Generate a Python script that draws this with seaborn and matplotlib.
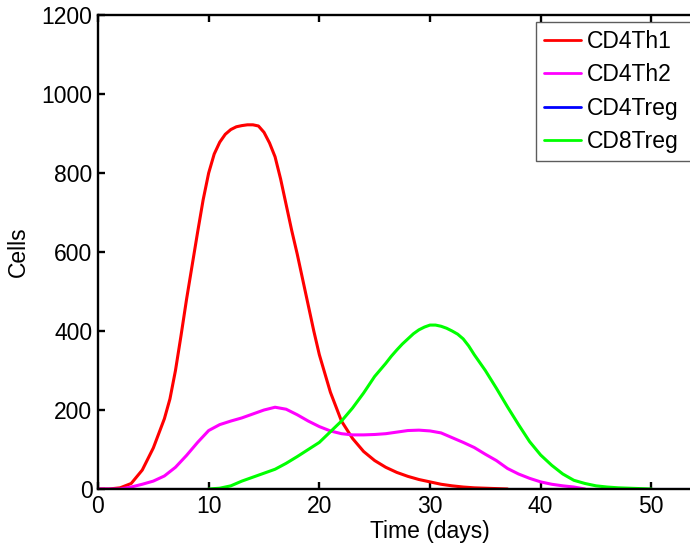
import numpy as np
import pandas as pd
import matplotlib
matplotlib.use("Agg")
import matplotlib.pyplot as plt
import seaborn as sns

# ---- data ----
th1_days = [0, 1, 2, 3, 4, 5, 6, 6.5, 7, 7.5, 8, 8.5, 9, 9.5, 10, 10.5, 11, 11.5, 12, 12.5,
            13, 13.5, 14, 14.5, 15, 15.5, 16, 16.5, 17, 17.5, 18, 18.5, 19, 19.5, 20, 21,
            22, 23, 24, 25, 26, 27, 28, 29, 30, 31, 32, 33, 34, 35, 36, 37]
th1_vals = [0, 0, 3, 14, 48, 104, 178, 228, 300, 388, 480, 565, 650, 732, 800, 848, 878,
            898, 910, 917, 920, 922, 922, 919, 903, 876, 841, 785, 720, 655, 595, 530, 465,
            400, 340, 245, 172, 128, 95, 72, 55, 42, 32, 24, 18, 12, 8, 5, 3, 2, 1, 0]

th2_days = list(range(0, 45))
th2_vals = [0, 0, 0, 5, 12, 20, 33, 55, 85, 118, 148, 163, 172, 180, 190, 200, 207, 202,
            188, 172, 158, 147, 140, 137, 137, 138, 140, 144, 148, 149, 147, 142, 130, 118,
            105, 88, 72, 52, 38, 27, 18, 12, 8, 5, 0]

treg4_days = list(range(0, 56))
treg4_vals = [0] * 56

treg8_days = [10, 11, 12, 13, 14, 15, 16, 17, 18, 19, 20, 21, 22, 23, 24, 25, 26, 26.5, 27,
              27.5, 28, 28.5, 29, 29.5, 30, 30.5, 31, 31.5, 32, 32.5, 33, 33.5, 34, 35, 36,
              37, 38, 39, 40, 41, 42, 43, 44, 45, 46, 47, 48, 49, 50]
treg8_vals = [0, 2, 8, 20, 30, 40, 50, 65, 82, 100, 118, 145, 172, 205, 243, 285, 318, 336,
              352, 367, 380, 393, 403, 410, 415, 415, 412, 407, 400, 392, 380, 362, 340, 300,
              255, 208, 163, 120, 86, 60, 38, 22, 14, 8, 5, 3, 2, 1, 0]

series_names = ["CD4Th1", "CD4Th2", "CD4Treg", "CD8Treg"]
series_colors = ["#ff0000", "#ff00ff", "#0000ff", "#00ff00"]
x_ticks = [0, 10, 20, 30, 40, 50]
y_ticks = [0, 200, 400, 600, 800, 1000, 1200]

frames = []
for name, d, v in zip(series_names,
                      [th1_days, th2_days, treg4_days, treg8_days],
                      [th1_vals, th2_vals, treg4_vals, treg8_vals]):
    frames.append(pd.DataFrame({"Time (days)": d, "Cells": v, "Series": name}))
df = pd.concat(frames, ignore_index=True)

# ---- style ----
sns.set_style("ticks")
plt.rcParams["font.family"] = ["Liberation Sans", "DejaVu Sans"]
plt.rcParams["text.color"] = "black"
plt.rcParams["axes.labelcolor"] = "black"
plt.rcParams["xtick.color"] = "black"
plt.rcParams["ytick.color"] = "black"
FS = 16.5

fig = plt.figure(figsize=(6.9, 5.52), dpi=100)
ax = fig.add_axes([98 / 690, 1 - 489 / 552, 664 / 690, 474 / 552])

sns.lineplot(data=df, x="Time (days)", y="Cells", hue="Series",
             hue_order=series_names, palette=dict(zip(series_names, series_colors)),
             linewidth=2.2, ax=ax, estimator=None)

ax.set_xlim(0, 60)
ax.set_ylim(0, 1200)
ax.set_xticks(x_ticks)
ax.set_yticks(y_ticks)
ax.set_xlabel("Time (days)", fontsize=FS, labelpad=2, color="black")
ax.set_ylabel("Cells", fontsize=FS, labelpad=8, color="black")

for s in ax.spines.values():
    s.set_visible(True)
    s.set_linewidth(1.7)
    s.set_color("black")
ax.tick_params(direction="in", length=5, width=1.7, labelsize=FS,
               top=True, right=True, pad=4, colors="black")

top = 1 - 22 / 552
sns.move_legend(ax, loc="upper left",
                bbox_to_anchor=(536 / 690, 0.5, 230 / 690, top - 0.5),
                bbox_transform=fig.transFigure, mode="expand", title=None, fontsize=FS,
                frameon=True, fancybox=False, handlelength=1.6, handletextpad=0.28,
                labelspacing=0.45, borderpad=0.35, borderaxespad=0)
leg = ax.get_legend()
leg.get_frame().set_edgecolor("#333333")
leg.get_frame().set_linewidth(1.0)
for t in leg.get_texts():
    t.set_color("black")
for h in leg.legend_handles:
    h.set_linewidth(2.0)

fig.savefig("out.png", dpi=100)
